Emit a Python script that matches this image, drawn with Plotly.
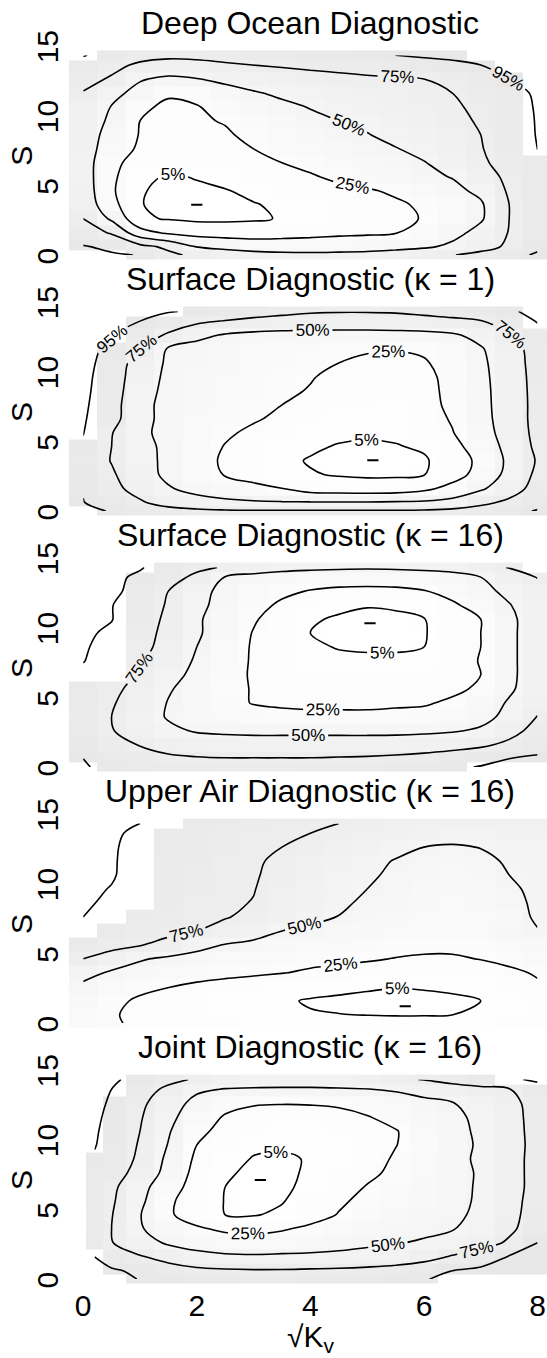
import plotly.graph_objects as go

# ---------------- data ----------------
x_grid = [0, 0.5, 1, 1.5, 2, 2.5, 3, 3.5, 4, 4.5, 5, 5.5, 6, 6.5, 7, 7.5, 8]
x_grid_joint = [0.2, 0.5, 1, 1.5, 2, 2.5, 3, 3.5, 4, 4.5, 5, 5.5, 6, 6.5, 7, 7.5, 8]
y_grid = [0.4, 1, 2, 3, 4, 5, 6, 7, 8, 9, 10, 11, 12, 13, 14, 14.7]
levels = [5, 25, 50, 75, 95]
x_ticks = [0, 2, 4, 6, 8]
y_ticks = [0, 5, 10, 15]

titles = ["Deep Ocean Diagnostic",
          "Surface Diagnostic (\u03ba = 1)",
          "Surface Diagnostic (\u03ba = 16)",
          "Upper Air Diagnostic (\u03ba = 16)",
          "Joint Diagnostic (\u03ba = 16)"]

# HPD level (%) on the grid, rows from y=0.4 (bottom) to y=14.7 (top)
deep_ocean_z = [
    [99, 96.5, 94.5, 80, 70, 65, 60, 57, 56, 57, 58, 62, 68, 74, 82, 90, 97],
    [96, 92, 82, 70, 49, 42, 37, 36, 36, 37, 39, 42, 46, 55, 66, 79, 92],
    [85, 73, 34, 21, 16, 15, 15, 17, 19, 21, 22, 24, 33, 42, 58, 76, 90],
    [75, 46, 7, 4, 2, 2, 3, 6, 10, 13, 17, 21, 26, 37, 47, 75, 89],
    [67, 32, 5.5, 2, 0, 1, 4, 8, 11, 14, 18, 22, 28, 37, 47, 75, 88],
    [64, 28, 6, 2, 2, 4, 9, 13, 17, 20, 23, 28, 36, 44, 55, 78, 88],
    [62, 29, 10, 3, 6, 11, 15, 19, 23, 29, 34, 39, 45, 51, 65, 80, 89],
    [62, 30, 17, 13, 14, 17, 21, 25, 30, 34, 39, 44, 49, 59, 72, 82, 90],
    [63, 36, 22, 18, 18, 21, 25, 31, 36, 40, 45, 49, 56, 64, 74, 84, 95.3],
    [64, 40, 24, 20, 21, 23, 29, 35, 40, 45, 49, 56, 62, 68, 75, 86, 95.8],
    [66, 45, 25, 22, 23, 26, 33, 39, 45, 50, 55, 60, 65, 70, 77, 87, 96],
    [69, 49, 28, 22, 24, 31, 38, 45, 51, 56, 61, 65, 69, 73, 78, 87.5, 96.5],
    [74, 57, 42, 27, 30, 40, 48, 54, 58, 62, 66, 69, 72, 75, 81, 89, 97.5],
    [81, 73, 52, 45, 49, 56, 61, 65, 68, 70, 72, 73, 75, 80, 87, 95, 99],
    [88, 80, 72, 68, 69, 72, 75, 77, 79, 81, 83, 86, 89, 92, 95, 98, 100],
    [96, 89, 81, 79, 80, 83, 85, 87, 89, 91, 93, 95, 97, 98, 99, 100, 100],
]
surface_k1_z = [
    [99, 94, 89, 84, 80, 78, 77, 77, 77, 77, 77, 77, 78, 81, 85, 91, 96],
    [95.5, 88, 78, 66, 59, 55, 53, 52, 52, 52, 52, 53, 54, 58, 70, 80, 90],
    [94, 82, 66, 52, 43, 37, 31, 26, 15, 13, 12, 13, 20, 33, 47, 64, 84],
    [92, 78, 60, 45, 33, 24, 17, 11, 6, 4, 3, 3, 4.5, 15, 34, 57, 80],
    [91, 74, 58, 45, 33, 22, 14, 8, 4, 2, 0, 1, 3, 14, 30, 55, 77],
    [93, 75, 57, 45, 35, 24, 17, 11, 7, 4, 3, 4, 7, 18, 36, 57, 80],
    [95.5, 76, 55, 43, 36, 28, 21, 15, 11, 8, 7, 8, 13, 24, 41, 59, 82],
    [96.5, 84, 56, 44, 37, 32, 27, 21, 16, 12, 10, 10, 15, 27, 43, 60, 83],
    [97.5, 85, 56, 44, 38, 34, 30, 25, 20, 16, 13, 12, 17, 30, 44, 60, 83],
    [98, 87, 58, 45, 40, 36, 32, 28, 24, 19, 15, 14, 18, 31, 44, 61, 83],
    [98, 89, 60, 46, 41, 37, 33, 29, 26, 21, 17, 16, 19, 32, 45, 61, 84],
    [98, 91, 63, 47, 42, 38, 34, 31, 28, 25, 21, 20, 23, 33, 46, 62, 85],
    [98, 93, 75, 47, 42, 38, 35, 33, 31, 29, 27, 26, 28, 34, 48, 64, 86],
    [98, 96, 87, 72, 56, 48, 44, 42, 41, 41, 41, 42, 43, 47, 57, 73, 89],
    [98, 97, 95, 88, 80, 74, 70, 68, 67, 66, 66, 66, 68, 70, 74, 85, 96],
    [99, 98, 97, 96, 93, 89, 84, 80, 77, 76, 76, 77, 80, 84, 89, 94, 97],
]
surface_k16_z = [
    [96, 92, 88, 85, 84, 83, 83, 83, 84, 85, 87, 89, 91, 93.5, 95.5, 97, 98],
    [95, 90, 84, 79, 77, 76, 76, 76, 76, 77, 78, 80, 83, 88, 92, 95, 97],
    [92, 83, 74, 67, 63, 61, 60, 60, 60, 60, 60, 61, 63, 66, 71, 80, 90],
    [88, 76, 66, 55, 48, 46, 45, 45, 45, 45, 45, 45, 46, 48, 53, 67, 83],
    [86, 75, 62, 48, 40, 35, 32, 30, 29, 29, 29, 30, 31, 35, 43, 56, 76],
    [88, 77, 64, 49, 40, 31, 24, 22, 21, 21, 21, 22, 23, 28, 39, 52, 65],
    [90, 80, 68, 52, 41, 30, 24, 20, 18, 17, 17, 17, 18, 21, 28, 47, 61],
    [92, 84, 73, 58, 44, 32, 23, 19, 16, 14, 13, 13, 15, 19, 25, 46, 60],
    [95.5, 88, 77, 64, 47, 34, 23, 16, 12, 9, 8, 8, 10, 17, 26, 46, 60],
    [96.5, 90, 80, 69, 50, 36, 23, 14, 8, 4, 3, 3, 5, 14, 25, 46, 60],
    [97, 93, 82, 70, 53, 38, 24, 14, 5, 1, 0, 1, 4, 13, 25, 46, 60],
    [97, 95.5, 85, 71, 53, 39, 27, 16, 7, 3, 1, 2, 4.5, 14, 25, 46, 60],
    [97, 95.5, 87, 73, 55, 43, 31, 22, 14, 9, 6, 7, 12, 21, 36, 49, 62],
    [97.5, 97.5, 91, 75, 56, 45, 36, 29, 24, 21, 20, 21, 24, 34, 44, 55, 66],
    [98, 97.5, 93, 84, 70, 49, 42, 38, 36, 35, 35, 35, 37, 41, 50, 63, 76],
    [98.5, 98, 96, 89, 80, 73, 65, 59, 56, 54, 53, 54, 56, 59, 67, 76, 85],
]
upper_air_z = [
    [34, 27, 22, 18, 15, 13, 11, 10, 9, 8.5, 8, 8, 8, 8.5, 10, 14, 19],
    [36, 27, 20, 16, 13, 11, 9, 7, 5.8, 5.2, 4.8, 4.5, 4.6, 4.9, 7, 12, 18],
    [40, 30, 22, 18, 15, 12, 9, 6.5, 4, 3, 2, 1, 2, 3, 5, 10, 16],
    [45, 36, 30, 25.5, 21, 18, 15, 12, 10, 8, 6.5, 5.5, 6, 7, 10, 15, 22],
    [58, 47, 41, 36, 33, 30, 28, 25.5, 23, 21, 19, 17, 16, 16, 18, 21, 27],
    [75, 64, 52, 46, 41, 37, 34, 31, 29, 28, 26.5, 24.5, 23, 23, 25.5, 30, 36],
    [90, 83, 76, 70, 58, 49, 44, 40, 37, 34, 32, 30, 29, 29, 30, 34, 40],
    [93, 88, 83, 79, 75, 69, 61, 50, 45, 41, 38, 35, 34, 34, 36, 42, 49],
    [95, 91, 86, 82, 79, 76, 71, 63, 56, 49.5, 44, 40, 37, 35, 36, 41, 53],
    [96.5, 93, 88, 84, 80, 77, 74.5, 67, 60, 53, 47, 42, 39, 37, 39, 45, 53],
    [97.5, 94.5, 89, 85, 81, 78, 75.5, 69, 62, 56, 50, 45, 41, 39, 41, 47, 54],
    [98, 96, 90, 86, 83, 80, 76.5, 70, 64, 58, 52.5, 47, 43, 41, 43, 50, 55],
    [98, 96, 91, 87, 84, 80, 77, 72, 66, 60, 55, 49, 45, 44, 46, 52, 56],
    [98, 96, 92, 88, 85, 82, 78, 75, 70, 65, 60, 55, 50, 48, 50.5, 53, 56],
    [98, 96.5, 93, 89, 86, 83, 80, 77, 75, 71, 67, 63, 60, 58, 58, 59, 61],
    [98, 97, 95, 91, 88, 85, 82, 80, 77, 75, 71, 68, 66, 64, 63, 63, 64],
]
joint_z = [
    [100, 99, 94.5, 93, 90, 88, 87, 87, 88, 89, 90, 92, 94.5, 97, 99, 100, 100],
    [99, 97, 92, 85, 80, 78, 77, 77, 78, 79, 81, 84, 89, 95, 98, 99, 100],
    [95, 87, 77, 67, 58, 54, 53, 54, 55, 56, 58, 61, 67, 77, 87, 96, 99],
    [88, 76, 60, 47, 40, 36, 35, 36, 38, 42, 46, 49, 52, 58, 66, 78, 95],
    [87, 75, 52, 38, 28, 21, 19, 23, 29, 34, 39, 43, 46, 49, 57, 71, 86],
    [87, 76, 51, 28, 14, 5, 4, 8, 17, 26, 33, 39, 43, 47, 53, 69, 84],
    [88, 78, 55, 29, 13, 4.5, 2, 4, 13, 22, 30, 36, 41, 46, 52, 68, 83],
    [89, 80, 58, 35, 16, 5, 1, 2, 9, 17, 26, 33, 39, 45, 52, 67, 82],
    [91, 85, 67, 42, 18, 7, 2, 2, 7, 13, 21, 29, 36, 44, 52, 67, 82],
    [94, 89, 71, 45, 21, 11, 4, 3, 6, 11, 18, 27, 35, 43, 54, 67, 82],
    [95.5, 91, 73, 49, 25, 14, 8, 7, 9, 12, 17, 24.5, 33, 42, 53, 66, 82],
    [96, 92, 75, 52, 30, 19, 13, 11, 12, 15, 19, 24, 34, 43, 54, 67, 82],
    [96.5, 93, 77, 56, 37, 23, 17, 15, 16, 19, 24, 31, 38, 45, 55, 68, 82],
    [97, 94, 80, 61, 43, 32, 27, 26, 26.5, 28, 32, 37, 43, 49, 58, 69, 83],
    [97.5, 95, 86, 70, 54, 49, 48, 48, 48, 48.5, 49.5, 53, 60, 66, 70, 74, 90],
    [98, 96.5, 92, 82, 72, 65, 61, 59, 59, 61, 65, 71, 76, 82, 88, 93, 97],
]

# shaded (1) / unshaded (0) cells, rows bottom -> top
deep_ocean_shade = ["00111111111111111", "11111111111111111", "11111111111111111",
                    "11111111111111111", "11111111111111111", "11111111111111111",
                    "11111111111111111", "11111111111111111", "11111111111111110",
                    "11111111111111110", "11111111111111110", "11111111111111110",
                    "11111111111111110", "11111111111111110", "11111111111111100",
                    "01111111111111000"]
surface_k1_shade = ["01111111111111111", "11111111111111111", "11111111111111111",
                    "11111111111111111", "11111111111111111", "11111111111111111",
                    "01111111111111111", "01111111111111111", "01111111111111111",
                    "01111111111111111", "01111111111111111", "01111111111111111",
                    "01111111111111111", "00111111111111111", "00111111111111110",
                    "00001111111111110"]
surface_k16_shade = ["01111111111111000", "11111111111111111", "11111111111111111",
                     "11111111111111111", "11111111111111111", "11111111111111111",
                     "11111111111111111", "00111111111111111", "00111111111111111",
                     "00111111111111111", "00111111111111111", "00111111111111111",
                     "00111111111111111", "00111111111111111", "00111111111111111",
                     "00011111111111110"]
upper_air_shade = ["11111111111111111", "11111111111111111", "11111111111111111",
                   "11111111111111111", "11111111111111111", "11111111111111111",
                   "11111111111111111", "01111111111111111", "00111111111111111",
                   "00011111111111111", "00011111111111111", "00011111111111111",
                   "00011111111111111", "00011111111111111", "00011111111111111",
                   "00001111111111111"]
joint_shade = ["00111111111110000", "01111111111111111", "01111111111111111",
               "11111111111111111", "11111111111111111", "11111111111111111",
               "11111111111111111", "11111111111111111", "11111111111111111",
               "11111111111111111", "01111111111111111", "01111111111111111",
               "01111111111111111", "01111111111111111", "00111111111111111",
               "00111111111111100"]

mode_x = [2.0, 5.1, 5.05, 5.67, 3.12]
mode_y = [4.0, 4.03, 10.7, 1.6, 7.5]

panels = [
    (deep_ocean_z, deep_ocean_shade, x_grid),
    (surface_k1_z, surface_k1_shade, x_grid),
    (surface_k16_z, surface_k16_shade, x_grid),
    (upper_air_z, upper_air_shade, x_grid),
    (joint_z, joint_shade, x_grid_joint),
]

# ---------------- layout geometry ----------------
W, H = 547, 1358
FONT = "Liberation Sans, Arial, Helvetica, sans-serif"
L_MARGIN = 65
X_RANGE = [-0.32, 8.166]
Y_RANGE = [-0.6, 15.6]
PX_PER_Y = 14.1
BASES = [250 + 258.5 * k for k in range(5)]   # pixel row of S = 0 in each panel

gray_scale = [[0.0, "#ffffff"], [0.25, "#fcfcfc"], [0.5, "#f5f5f5"],
              [0.75, "#eeeeee"], [1.0, "#e7e7e7"]]
black_scale = [[0.0, "black"], [1.0, "black"]]

fig = go.Figure()
layout = dict(width=W, height=H, margin=dict(l=L_MARGIN, r=0, t=0, b=0),
              paper_bgcolor="white", plot_bgcolor="white", showlegend=False,
              font=dict(family=FONT, color="black"))
annotations = []

for k, (zg, shade, xg) in enumerate(panels):
    n = k + 1
    xa = "x" if n == 1 else f"x{n}"
    ya = "y" if n == 1 else f"y{n}"
    z01 = [[v / 100.0 for v in row] for row in zg]
    zshade = [[(z01[i][j] if shade[i][j] == "1" else None) for j in range(len(xg))]
              for i in range(len(y_grid))]

    fig.add_trace(go.Heatmap(x=xg, y=y_grid, z=zshade, colorscale=gray_scale,
                             zmin=0, zmax=1, zsmooth=False, showscale=False,
                             hoverinfo="skip", xaxis=xa, yaxis=ya))
    for lv in levels:
        fig.add_trace(go.Contour(
            x=xg, y=y_grid, z=z01, autocontour=False,
            colorscale=black_scale, showscale=False,
            contours=dict(start=lv / 100.0, end=lv / 100.0, size=0.01,
                          coloring="lines", showlabels=True,
                          labelformat=".0%",
                          labelfont=dict(size=17, color="black", family=FONT)),
            line=dict(color="black", width=1.6, smoothing=1),
            hoverinfo="skip", xaxis=xa, yaxis=ya))
    fig.add_trace(go.Scatter(x=[mode_x[k]], y=[mode_y[k]], mode="markers",
                             marker=dict(symbol="line-ew", size=8,
                                         line=dict(width=2, color="black")),
                             hoverinfo="skip", xaxis=xa, yaxis=ya))

    base = BASES[k]
    top_px = base - Y_RANGE[1] * PX_PER_Y
    bot_px = base - Y_RANGE[0] * PX_PER_Y
    dom = [1 - bot_px / H, 1 - top_px / H]

    layout["xaxis" if n == 1 else f"xaxis{n}"] = dict(
        domain=[0, 1], range=X_RANGE, anchor=ya, showgrid=False, zeroline=False,
        showline=False, ticks="", tickvals=x_ticks, showticklabels=(n == 5),
        tickfont=dict(size=30, family=FONT), ticklabelstandoff=-8)
    layout["yaxis" if n == 1 else f"yaxis{n}"] = dict(
        domain=dom, range=Y_RANGE, anchor=xa, showgrid=False, zeroline=False,
        showline=False, ticks="", tickvals=y_ticks, tickangle=-90,
        tickfont=dict(size=30, family=FONT), ticklabelstandoff=0)

    # panel title
    annotations.append(dict(text=titles[k], x=4.0, xref=xa,
                            y=1 - (base - 240) / H, yref="paper",
                            xanchor="center", yanchor="middle", showarrow=False,
                            font=dict(size=32, family=FONT, color="black")))
    # y axis label
    annotations.append(dict(text="S", x=(22 - L_MARGIN) / (W - L_MARGIN), xref="paper",
                            y=1 - (base - 7.5 * PX_PER_Y) / H, yref="paper",
                            xanchor="center", yanchor="middle", textangle=-90,
                            showarrow=False,
                            font=dict(size=30, family=FONT, color="black")))

annotations.append(dict(text="\u221aK<sub>v</sub>",
                        x=4.0, xref="x5", y=1 - 1338 / H, yref="paper",
                        xanchor="center", yanchor="middle", showarrow=False,
                        font=dict(size=30, family=FONT, color="black")))
layout["annotations"] = annotations
fig.update_layout(**layout)
fig.write_html("out.html")
